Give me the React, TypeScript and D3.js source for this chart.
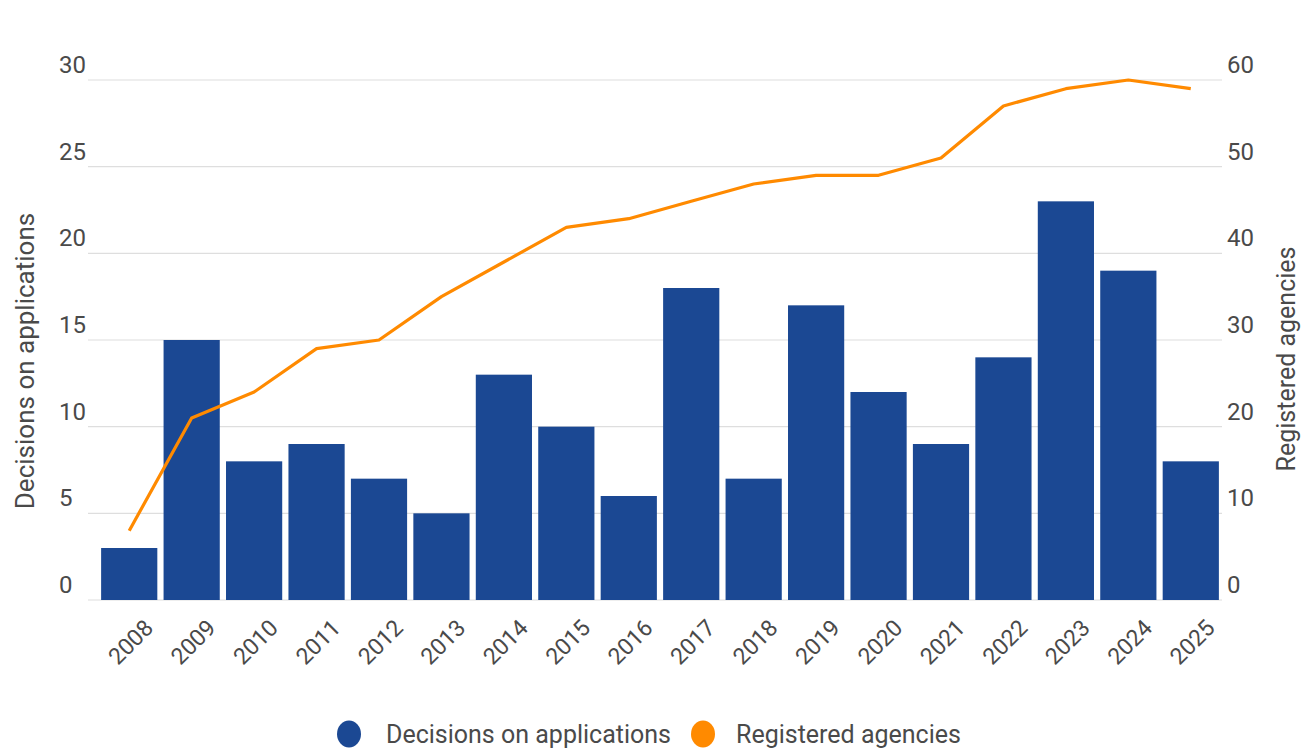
import * as d3 from 'd3'

const years = ['2008', '2009', '2010', '2011', '2012', '2013', '2014', '2015', '2016', '2017', '2018', '2019', '2020', '2021', '2022', '2023', '2024', '2025']
const decisions = [3, 15, 8, 9, 7, 5, 13, 10, 6, 18, 7, 17, 12, 9, 14, 23, 19, 8]
const agencies = [8, 21, 24, 29, 30, 35, 39, 43, 44, 46, 48, 49, 49, 51, 57, 59, 60, 59]
const leftTicks = [0, 5, 10, 15, 20, 25, 30]
const rightTicks = [0, 10, 20, 30, 40, 50, 60]

const width = 1303
const height = 748
const blue = '#1b4893'
const orange = '#ff8a00'
const textColor = '#4a4a4a'

export default function App() {
  // plot area in page pixels
  const x0 = 98
  const x1 = 1222
  const yTop = 80
  const yBottom = 600

  const xScale = d3.scaleBand<string>().domain(years).range([x0, x1]).paddingInner(0.1).paddingOuter(0.05)
  const yLeft = d3.scaleLinear().domain([0, 30]).range([yBottom, yTop])
  const yRight = d3.scaleLinear().domain([0, 60]).range([yBottom, yTop])

  const cx = (y: string) => xScale(y)! + xScale.bandwidth() / 2

  const line = d3
    .line<number>()
    .x((_, i) => cx(years[i]))
    .y((d) => yRight(d))

  return (
    <svg
      width={width}
      height={height}
      style={{ position: 'absolute', left: 0, top: 0 }}
      fontFamily="Roboto, sans-serif"
    >
      <rect width={width} height={height} fill="#fff" />

      {/* grid */}
      <g stroke="#dedede" strokeWidth={1.2}>
        {leftTicks.map((t) => (
          <line key={t} x1={88} x2={x1} y1={yLeft(t)} y2={yLeft(t)} />
        ))}
      </g>

      {/* left axis labels */}
      <g fill={textColor} fontSize={24}>
        {leftTicks.map((t) => (
          <text key={t} x={59} y={yLeft(t) - 7}>
            {t}
          </text>
        ))}
      </g>
      {/* right axis labels */}
      <g fill={textColor} fontSize={24}>
        {rightTicks.map((t) => (
          <text key={t} x={1227} y={yRight(t) - 7}>
            {t}
          </text>
        ))}
      </g>

      <text
        transform={`translate(34, 361) rotate(-90)`}
        textAnchor="middle"
        fontSize={26}
        fill={textColor}
      >
        Decisions on applications
      </text>
      <text
        transform={`translate(1295, 359) rotate(-90)`}
        textAnchor="middle"
        fontSize={25}
        fill={textColor}
      >
        Registered agencies
      </text>

      {/* bars */}
      <g fill={blue}>
        {years.map((y, i) => (
          <rect
            key={y}
            x={xScale(y)}
            y={yLeft(decisions[i])}
            width={xScale.bandwidth()}
            height={yBottom - yLeft(decisions[i])}
          />
        ))}
      </g>

      {/* line */}
      <path d={line(agencies)!} fill="none" stroke={orange} strokeWidth={3.2} strokeLinejoin="round" />

      {/* x labels */}
      <g fill={textColor} fontSize={23}>
        {years.map((y) => (
          <text
            key={y}
            transform={`translate(${cx(y) + 14}, ${618}) rotate(-45)`}
            textAnchor="end"
            dy="0.7em"
          >
            {y}
          </text>
        ))}
      </g>

      {/* legend */}
      <g fontSize={25} fill={textColor}>
        <ellipse cx={349} cy={734} rx={12} ry={13.5} fill={blue} />
        <text x={386} y={743}>
          Decisions on applications
        </text>
        <ellipse cx={703} cy={734} rx={12} ry={13.5} fill={orange} />
        <text x={736} y={743}>
          Registered agencies
        </text>
      </g>
    </svg>
  )
}
